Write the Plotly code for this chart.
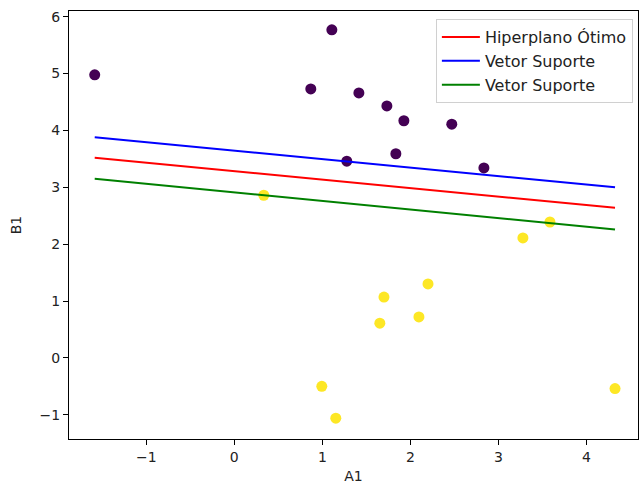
import plotly.graph_objects as go

# Data
purple_x = [-1.585, 1.108, 0.869, 1.415, 1.733, 1.926, 2.47, 1.835, 1.278, 2.835]
purple_y = [4.977, 5.77, 4.73, 4.66, 4.43, 4.17, 4.11, 3.59, 3.46, 3.34]
yellow_x = [0.335, 3.278, 3.585, 1.70, 2.20, 1.653, 2.097, 0.994, 1.153, 4.324]
yellow_y = [2.86, 2.11, 2.39, 1.07, 1.30, 0.61, 0.72, -0.50, -1.06, -0.54]

line_x = [-1.585, 4.324]
hyper_y = [3.52, 2.64]
sv_upper_y = [3.88, 3.00]
sv_lower_y = [3.15, 2.26]

FONT = "DejaVu Sans"

fig = go.Figure()
fig.add_trace(go.Scatter(x=purple_x, y=purple_y, mode="markers",
                         marker=dict(color="#440154", size=11, line=dict(width=0)),
                         showlegend=False))
fig.add_trace(go.Scatter(x=yellow_x, y=yellow_y, mode="markers",
                         marker=dict(color="#fde725", size=11, line=dict(width=0)),
                         showlegend=False))
fig.add_trace(go.Scatter(x=line_x, y=hyper_y, mode="lines",
                         line=dict(color="red", width=2), name="Hiperplano Ótimo"))
fig.add_trace(go.Scatter(x=line_x, y=sv_upper_y, mode="lines",
                         line=dict(color="blue", width=2), name="Vetor Suporte"))
fig.add_trace(go.Scatter(x=line_x, y=sv_lower_y, mode="lines",
                         line=dict(color="green", width=2), name="Vetor Suporte"))

axis_common = dict(showgrid=False, zeroline=False, showline=True, linecolor="black",
                   linewidth=1, mirror=True, ticks="outside", ticklen=5, tickwidth=1,
                   tickcolor="black", dtick=1, automargin=False,
                   tickfont=dict(family=FONT, size=14, color="#222"))

fig.update_layout(
    width=641, height=484,
    margin=dict(l=69, r=3, t=11, b=45),
    paper_bgcolor="white", plot_bgcolor="white",
    font=dict(family=FONT, size=14, color="#222"),
    xaxis=dict(range=[-1.877, 4.585], title=dict(text="A1", standoff=15, font=dict(family=FONT, size=14)),
               **axis_common),
    yaxis=dict(range=[-1.426, 6.10], title=dict(text="B1", standoff=14, font=dict(family=FONT, size=14)),
               **axis_common),
    legend=dict(x=0.991, y=0.981, xanchor="right", yanchor="top",
                bgcolor="rgba(255,255,255,0.8)", bordercolor="#d0d0d0", borderwidth=1,
                font=dict(family=FONT, size=16, color="#222"), itemwidth=38),
)

fig.write_html("out.html")
